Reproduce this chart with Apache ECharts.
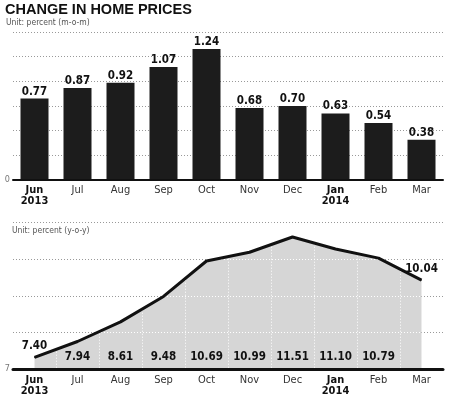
<!DOCTYPE html>
<html>
<head>
<meta charset="utf-8">
<script src="https://cdn.jsdelivr.net/npm/echarts@6/dist/echarts.min.js"></script>
<style>
  html, body { margin: 0; padding: 0; background: #fff; }
  #chart { width: 452px; height: 397px; }
</style>
</head>
<body>
<div id="chart"></div>
<script>
// data
const months = ['Jun', 'Jul', 'Aug', 'Sep', 'Oct', 'Nov', 'Dec', 'Jan', 'Feb', 'Mar']
const years = ['2013', '', '', '', '', '', '', '2014', '', '']
const momValues = [0.77, 0.87, 0.92, 1.07, 1.24, 0.68, 0.70, 0.63, 0.54, 0.38]
const yoyValues = [7.40, 7.94, 8.61, 9.48, 10.69, 10.99, 11.51, 11.10, 10.79, 10.04]
const momTickLabel = 0
const yoyTickLabel = 7

const FONT = '"Liberation Sans Narrow", "DejaVu Sans Condensed", "Liberation Sans", sans-serif'
const last = months.length - 1

function monthLabel (v, i) {
  // the first month of each year gets a bold two-line label
  return years[i] ? '{b|' + v + '}\n{b|' + years[i] + '}' : '{n|' + v + '}'
}

const monthRich = {
  b: { fontFamily: FONT, fontSize: 11, fontWeight: 'bold', color: '#111', lineHeight: 11 },
  n: { fontFamily: FONT, fontSize: 11, color: '#333', lineHeight: 11 }
}

const chart = echarts.init(document.getElementById('chart'))

chart.setOption({
  animation: false,
  title: [
    {
      text: 'CHANGE IN HOME PRICES', left: 5, top: 2, padding: 0,
      textStyle: { fontFamily: '"Liberation Sans", sans-serif', fontSize: 14.5, fontWeight: 900, color: '#111' }
    },
    {
      text: 'Unit: percent (m-o-m)', left: 6, top: 18, padding: 0,
      textStyle: { fontFamily: FONT, fontSize: 8.5, fontWeight: 'normal', color: '#555' }
    },
    {
      text: 'Unit: percent (y-o-y)', left: 12, top: 226, padding: 0,
      textStyle: { fontFamily: FONT, fontSize: 8.5, fontWeight: 'normal', color: '#555' }
    }
  ],
  grid: [
    { left: 13, right: 9, top: 32, height: 148 },
    { left: 13, right: 9, top: 222.7, height: 148 }
  ],
  xAxis: [
    {
      gridIndex: 0, type: 'category', data: months, position: 'bottom', z: 4,
      axisLine: { lineStyle: { color: '#111', width: 2 } },
      axisTick: { show: false },
      axisLabel: { interval: 0, margin: 5, formatter: monthLabel, rich: monthRich },
      splitLine: { show: false }
    },
    {
      gridIndex: 1, type: 'category', data: months, position: 'bottom', z: 4,
      axisLine: { lineStyle: { color: '#111', width: 3 } },
      axisTick: { show: false },
      axisLabel: { interval: 0, margin: 6, formatter: monthLabel, rich: monthRich },
      splitLine: { show: false }
    },
    {
      // value labels sitting on the floor of the area + white column dividers
      gridIndex: 1, type: 'category', data: months, position: 'bottom', offset: -18, z: 5,
      axisLine: { show: false },
      axisTick: { show: false },
      axisLabel: {
        interval: 0, margin: 0, fontFamily: FONT, fontSize: 11.5, fontWeight: 'bold', color: '#111',
        formatter: (v, i) => (i === 0 || i === last) ? '' : yoyValues[i].toFixed(2)
      },
      splitLine: {
        show: true, interval: 0, showMinLine: false, showMaxLine: false,
        lineStyle: { color: '#fff', width: 1, type: [1, 2] }
      }
    }
  ],
  yAxis: [
    {
      gridIndex: 0, type: 'value', min: 0, max: 1.4, interval: 1.4 / 6,
      axisLine: { show: false }, axisTick: { show: false },
      axisLabel: {
        margin: 3, fontFamily: FONT, fontSize: 9, color: '#777',
        formatter: v => v === momTickLabel ? String(momTickLabel) : ''
      },
      splitLine: { lineStyle: { color: '#999', width: 1, type: [1, 2] } }
    },
    {
      gridIndex: 1, type: 'value', min: 7, max: 12, position: 'left',
      axisLine: { show: false }, axisTick: { show: false },
      axisLabel: {
        margin: 3, fontFamily: FONT, fontSize: 9, color: '#777',
        formatter: v => v === yoyTickLabel ? String(yoyTickLabel) : ''
      },
      splitLine: { show: false }
    },
    {
      // gray dotted rows (every 1.25 from 7), under the area
      gridIndex: 1, type: 'value', min: 0, max: 5, interval: 1.25, position: 'left',
      axisLine: { show: false }, axisTick: { show: false }, axisLabel: { show: false },
      splitLine: { lineStyle: { color: '#999', width: 1, type: [1, 2] } }
    },
    {
      // same rows in white, drawn over the area between the gray dots
      gridIndex: 1, type: 'value', min: 0, max: 5, interval: 1.25, position: 'left', z: 5,
      axisLine: { show: false }, axisTick: { show: false }, axisLabel: { show: false },
      splitLine: { showMinLine: false, lineStyle: { color: '#fff', width: 1, type: [1, 2], dashOffset: 2 } }
    }
  ],
  series: [
    {
      name: 'm-o-m', type: 'bar', xAxisIndex: 0, yAxisIndex: 0,
      data: momValues, barWidth: 28,
      itemStyle: { color: '#1c1c1c' },
      label: {
        show: true, position: 'top', distance: 1,
        fontFamily: FONT, fontSize: 11.5, fontWeight: 'bold', color: '#111',
        formatter: p => p.value.toFixed(2)
      }
    },
    {
      name: 'y-o-y area', type: 'line', xAxisIndex: 1, yAxisIndex: 1,
      data: yoyValues, showSymbol: false, silent: true, z: 2,
      lineStyle: { width: 0, opacity: 0 },
      areaStyle: { color: '#d6d6d6', opacity: 1 }
    },
    {
      name: 'y-o-y', type: 'line', xAxisIndex: 1, yAxisIndex: 1,
      data: yoyValues, symbol: 'circle', symbolSize: 1, z: 6,
      itemStyle: { color: '#111' },
      lineStyle: { color: '#111', width: 3 },
      label: {
        show: true, position: 'top', distance: 5,
        fontFamily: FONT, fontSize: 11.5, fontWeight: 'bold', color: '#111',
        formatter: p => (p.dataIndex === 0 || p.dataIndex === last) ? p.value.toFixed(2) : ''
      }
    }
  ]
})
</script>
</body>
</html>
